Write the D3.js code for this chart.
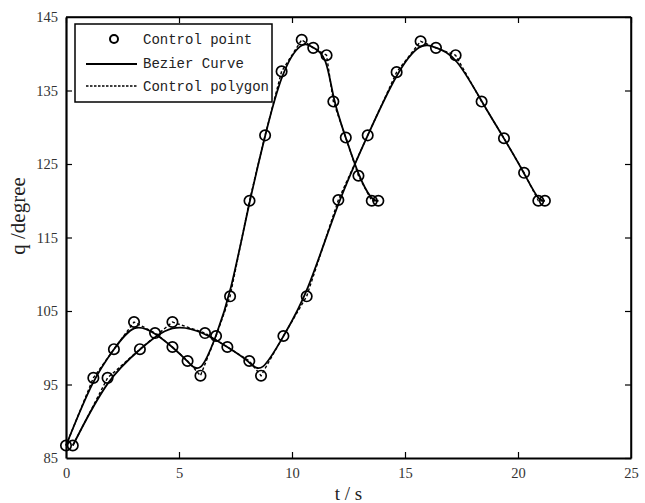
<!DOCTYPE html>
<html>
<head>
<meta charset="utf-8">
<script src="https://cdn.jsdelivr.net/npm/d3@7"></script>
<style>
  html, body { margin: 0; padding: 0; background: #fff; }
  svg { display: block; }
</style>
</head>
<body>
<svg id="chart" width="645" height="503"></svg>
<script>
// ---- data ----
const t1 = [0, 1.21, 2.12, 3.01, 3.94, 4.71, 5.38, 5.95, 6.64, 7.26, 8.12, 8.81, 9.54, 10.43, 10.94, 11.53, 11.83, 12.38, 12.94, 13.53, 13.82];
const q1 = [86.7, 95.9, 99.8, 103.5, 102.0, 100.1, 98.2, 96.2, 101.6, 107.0, 120.0, 128.9, 137.6, 141.9, 140.8, 139.8, 133.5, 128.6, 123.4, 120.0, 120.0];
const t2 = [0.3, 1.84, 3.27, 4.71, 6.15, 7.14, 8.11, 8.63, 9.62, 10.65, 12.05, 13.35, 14.63, 15.69, 16.37, 17.24, 18.39, 19.38, 20.27, 20.9, 21.19];
const q2 = [86.7, 95.9, 99.8, 103.5, 102.0, 100.1, 98.2, 96.2, 101.6, 107.0, 120.1, 128.9, 137.5, 141.7, 140.8, 139.8, 133.5, 128.5, 123.8, 120.0, 120.0];
const xTicks = [0, 5, 10, 15, 20, 25];
const yTicks = [85, 95, 105, 115, 125, 135, 145];
const legendLabels = ["Control point", "Bezier Curve", "Control polygon"];
const xLabel = "t / s";
const yLabel = "q /degree";

// ---- layout ----
const svg = d3.select("#chart");
const L = 66, R = 631, T = 17, B = 458;
const x = d3.scaleLinear().domain([0, 25]).range([L, R]);
const y = d3.scaleLinear().domain([85, 145]).range([B, T]);
const serif = "'Liberation Serif', 'Times New Roman', serif";

const series = [
  t1.map((t, i) => [t, q1[i]]),
  t2.map((t, i) => [t, q2[i]])
];

// frame
const frame = svg.append("g");
frame.append("line").attr("x1", L).attr("x2", R).attr("y1", T).attr("y2", T).attr("stroke", "#000").attr("stroke-width", 1.5);
frame.append("line").attr("x1", R).attr("x2", R).attr("y1", T).attr("y2", B).attr("stroke", "#000").attr("stroke-width", 1.5);

// axes with inward ticks
const gx = svg.append("g").attr("transform", `translate(0,${B})`)
  .call(d3.axisBottom(x).tickValues(xTicks).tickSizeInner(-6).tickSizeOuter(0).tickPadding(10).tickFormat(d3.format("d")));
const gxTop = svg.append("g").attr("transform", `translate(0,${T})`)
  .call(d3.axisTop(x).tickValues(xTicks).tickSizeInner(-6).tickSizeOuter(0).tickFormat(""));
const gy = svg.append("g").attr("transform", `translate(${L},0)`)
  .call(d3.axisLeft(y).tickValues(yTicks).tickSizeInner(-6).tickSizeOuter(0).tickPadding(8).tickFormat(d3.format("d")));
const gyR = svg.append("g").attr("transform", `translate(${R},0)`)
  .call(d3.axisRight(y).tickValues(yTicks).tickSizeInner(-6).tickSizeOuter(0).tickFormat(""));

[gx, gy].forEach(g => {
  g.select(".domain").attr("stroke", "#000").attr("stroke-width", 2.2);
  g.selectAll(".tick line").attr("stroke", "#000").attr("stroke-width", 1.2);
  g.selectAll(".tick text").attr("font-family", serif).attr("font-size", 14.5).attr("fill", "#333");
});
[gxTop, gyR].forEach(g => {
  g.select(".domain").attr("stroke", "#000").attr("stroke-width", 1.5);
  g.selectAll(".tick line").attr("stroke", "#000").attr("stroke-width", 1.2);
});
gx.selectAll(".tick text").attr("dy", "0.71em");
gx.selectAll(".tick").filter(d => d === 0).select("line").remove();
gx.selectAll(".tick").filter(d => d === 25).select("line").remove();
gy.selectAll(".tick").filter(d => d === 85 || d === 145).select("line").remove();

// axis titles
svg.append("text").attr("x", (L + R) / 2).attr("y", 500).attr("text-anchor", "middle")
  .attr("font-family", serif).attr("font-size", 19).attr("fill", "#222").text(xLabel);
svg.append("text").attr("transform", `translate(25,216) rotate(-90)`).attr("text-anchor", "middle")
  .attr("font-family", serif).attr("font-size", 21).attr("fill", "#222").text(yLabel);

// plot lines
const polygon = d3.line().x(d => x(d[0])).y(d => y(d[1]));
const bezier = d3.line().x(d => x(d[0])).y(d => y(d[1])).curve(d3.curveBasis);

const plot = svg.append("g");
series.forEach(s => {
  plot.append("path").attr("d", polygon(s)).attr("fill", "none")
    .attr("stroke", "#000").attr("stroke-width", 1.4).attr("stroke-dasharray", "3,2.2");
  plot.append("path").attr("d", bezier(s)).attr("fill", "none")
    .attr("stroke", "#000").attr("stroke-width", 1.8);
});
series.forEach(s => {
  plot.selectAll(null).data(s).enter().append("circle")
    .attr("cx", d => x(d[0])).attr("cy", d => y(d[1])).attr("r", 5.2)
    .attr("fill", "none").attr("stroke", "#000").attr("stroke-width", 1.7);
});

// legend
const lg = svg.append("g");
lg.append("rect").attr("x", 75).attr("y", 24).attr("width", 197).attr("height", 78)
  .attr("fill", "#fff").attr("stroke", "#000").attr("stroke-width", 1.5);
lg.append("circle").attr("cx", 114).attr("cy", 39).attr("r", 4).attr("fill", "none")
  .attr("stroke", "#000").attr("stroke-width", 2);
lg.append("line").attr("x1", 86).attr("x2", 137).attr("y1", 64).attr("y2", 64)
  .attr("stroke", "#000").attr("stroke-width", 1.8);
lg.append("line").attr("x1", 86).attr("x2", 137).attr("y1", 86).attr("y2", 86)
  .attr("stroke", "#000").attr("stroke-width", 1.6).attr("stroke-dasharray", "2.5,1.5");
const ly = [44, 68, 91];
legendLabels.forEach((s, i) => {
  lg.append("text").attr("x", 143).attr("y", ly[i])
    .attr("font-family", "'Liberation Mono', 'DejaVu Sans Mono', monospace")
    .attr("font-size", 14).attr("fill", "#222").text(s);
});
</script>
</body>
</html>
